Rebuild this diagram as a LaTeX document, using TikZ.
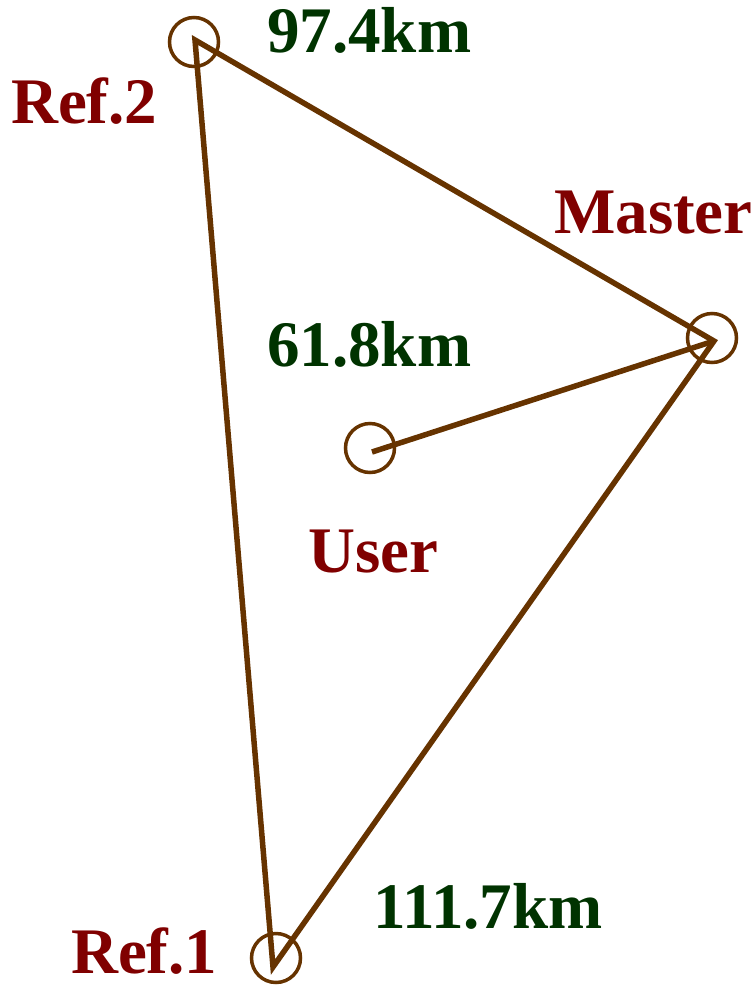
\documentclass[tikz,border=0pt]{standalone}
\usepackage{fontspec}
\setmainfont{Liberation Serif}
\definecolor{linebrown}{RGB}{102,51,0}
\definecolor{labred}{RGB}{128,0,0}
\definecolor{labgreen}{RGB}{0,51,0}
\tikzset{
  station/.style={circle, draw=linebrown, line width=3.5pt, minimum size=49pt, inner sep=0pt},
  link/.style={draw=linebrown, line width=5.5pt, line join=miter, line cap=butt},
  labtext/.style={anchor=base west, inner sep=0pt, text depth=0pt, font=\fontsize{65}{65}\selectfont\bfseries},
  stnlabel/.style={labtext, text=labred},
  distlabel/.style={labtext, text=labgreen}
}
\begin{document}
\begin{tikzpicture}[x=1pt, y=-1pt]
\useasboundingbox (0,0) rectangle (754,986);
% stations
\node[station] (ref2) at (194,42) {};
\node[station] (master) at (712,338) {};
\node[station] (user) at (370,448) {};
\node[station] (ref1) at (276,958) {};
% line vertices
\coordinate (v2) at (195,40);
\coordinate (vm) at (714,341);
\coordinate (vu) at (372,452);
\coordinate (v1) at (273,967);
% connectors
\draw[link] (v1) -- (v2) -- (vm) -- cycle;
\draw[link] (vu) -- (vm);
% labels
\node[distlabel] (d974) at (267,52) {97.4km};
\node[stnlabel] (lref2) at (11,123) {Ref.2};
\node[stnlabel] (lmaster) at (554,233) {Master};
\node[distlabel] (d618) at (267,366) {61.8km};
\node[stnlabel] (luser) at (308,572) {User};
\node[distlabel] (d1117) at (373,928) {111.7km};
\node[stnlabel] (lref1) at (71,973) {Ref.1};
\end{tikzpicture}
\end{document}
